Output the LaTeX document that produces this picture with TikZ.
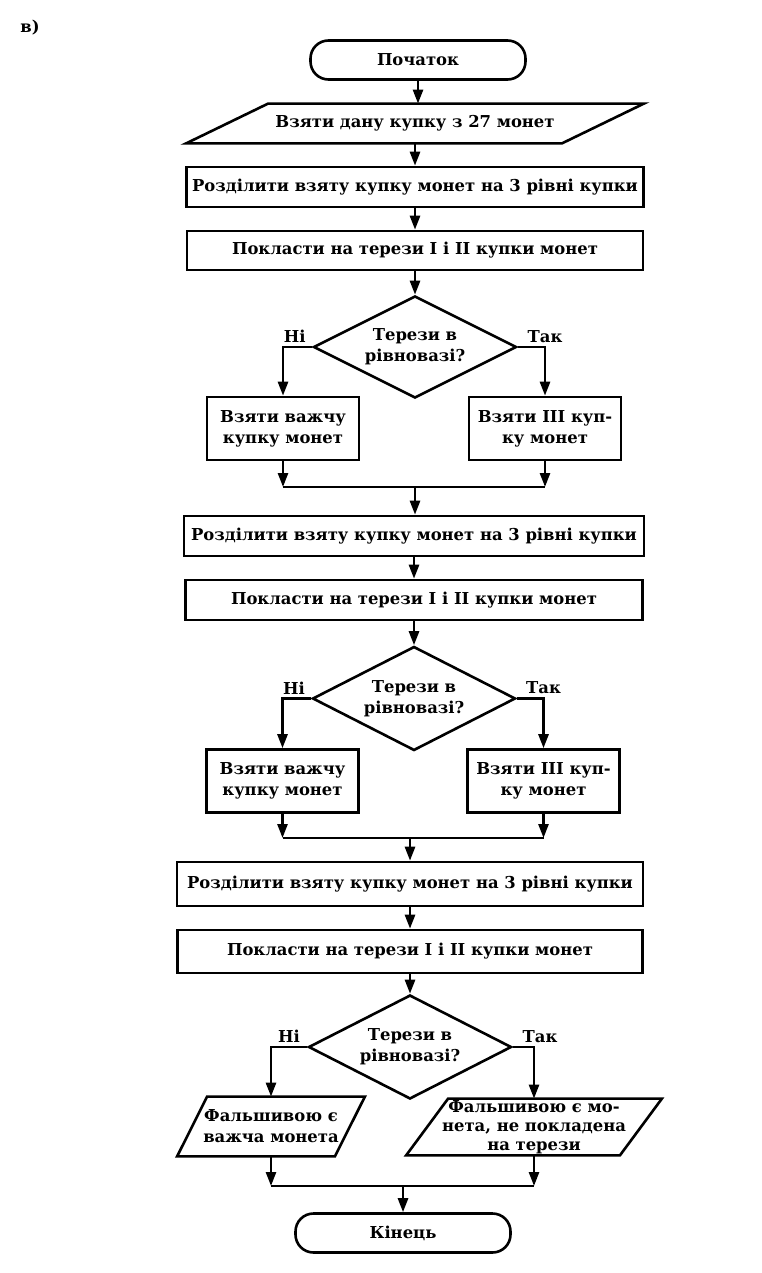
\documentclass[tikz,border=0pt]{standalone}
\usepackage{fontspec}
\setmainfont{DejaVu Serif}
\usetikzlibrary{shapes.geometric,arrows.meta}

\begin{document}
\begin{tikzpicture}[x=0.5pt, y=-0.5pt,
    >={Triangle[width=5pt,length=7pt]},
    every node/.style={font=\bfseries\fontsize{8.2}{10.5}\selectfont, align=center},
    line/.style={line width=1.3pt},
    answer/.style={above, inner sep=1.5pt},
    terminal/.style={draw, line width=1.3pt, rounded corners=9pt, minimum width=107.5pt, minimum height=19.5pt},
    process/.style={draw, line width=1.3pt, inner sep=0.5pt, minimum height=20pt},
    io/.style={inner sep=0pt},
    decision/.style={draw, line width=1.3pt, diamond, aspect=2, inner sep=0pt, minimum width=101.5pt, minimum height=51pt},
    branch/.style={draw, line width=1.3pt, inner sep=1pt, minimum width=76pt, minimum height=31.5pt}]
  \useasboundingbox (0,0) rectangle (761,1273);

  \node (tag) at (30,28) {в)};

  % first round
  \node[terminal] (start) at (418,60) {Початок};
  \node[io, minimum width=228.5pt, minimum height=19.5pt] (in1) at (415,123.5) {Взяти дану купку з 27 монет};
  \draw[line] (in1.south west) -- ([xshift=41pt]in1.north west) -- (in1.north east)
    -- ([xshift=-41pt]in1.south east) -- cycle;
  \node[process, minimum width=228.5pt] (r1) at (415,187) {Розділити взяту купку монет на 3 рівні купки};
  \node[process, minimum width=228pt, minimum height=19.5pt] (p1) at (415,250.5) {Покласти на терези I і II купки монет};
  \node[decision] (d1) at (415,347) {Терези в\\рівновазі?};
  \node[branch] (k1) at (283,428.5) {Взяти важчу\\купку монет};
  \node[branch] (t1) at (545,428.5) {Взяти III куп-\\ку монет};
  \coordinate (m1) at (415,487);

  \draw[line,->] (start.south) -- (start.south |- in1.north);
  \draw[line,->] (in1.south) -- (in1.south |- r1.north);
  \draw[line,->] (r1) -- (p1);
  \draw[line,->] (p1) -- (d1);
  \draw[line,->] (d1.west) -| node[answer, pos=0.3] {Ні} (k1.north);
  \draw[line,->] (d1.east) -| node[answer, pos=0.5] {Так} (t1.north);
  \draw[line,->] (k1.south) -- (k1.south |- m1);
  \draw[line,->] (t1.south) -- (t1.south |- m1);
  \draw[line] (k1.south |- m1) -- (t1.south |- m1);

  % second round
  \node[process, minimum width=230pt] (r2) at (414,536) {Розділити взяту купку монет на 3 рівні купки};
  \node[process, minimum width=228.5pt] (p2) at (414,600) {Покласти на терези I і II купки монет};
  \node[decision, minimum height=52pt] (d2) at (414,698.5) {Терези в\\рівновазі?};
  \node[branch] (k2) at (282.5,781) {Взяти важчу\\купку монет};
  \node[branch] (t2) at (543.5,781) {Взяти III куп-\\ку монет};
  \coordinate (m2) at (410,838);

  \draw[line,->] (m1) -- (m1 |- r2.north);
  \draw[line,->] (r2) -- (p2);
  \draw[line,->] (p2) -- (d2);
  \draw[line,->] (d2.west) -| node[answer, pos=0.3] {Ні} (k2.north);
  \draw[line,->] (d2.east) -| node[answer, pos=0.5] {Так} (t2.north);
  \draw[line,->] (k2.south) -- (k2.south |- m2);
  \draw[line,->] (t2.south) -- (t2.south |- m2);
  \draw[line] (k2.south |- m2) -- (t2.south |- m2);

  % third round
  \node[process, minimum width=233pt, minimum height=22pt] (r3) at (410,884) {Розділити взяту купку монет на 3 рівні купки};
  \node[process, minimum width=232.5pt, minimum height=21.5pt] (p3) at (410,951.5) {Покласти на терези I і II купки монет};
  \node[decision, minimum height=52pt] (d3) at (410,1047) {Терези в\\рівновазі?};
  \node[io, minimum width=93.5pt, minimum height=29.5pt] (o1) at (271,1126.5) {Фальшивою є\\важча монета};
  \draw[line] (o1.south west) -- ([xshift=15pt]o1.north west) -- (o1.north east)
    -- ([xshift=-15pt]o1.south east) -- cycle;
  \node[io, minimum width=127.5pt, minimum height=28pt,
        font=\bfseries\fontsize{8.2}{9.5}\selectfont] (o2) at (534,1127) {Фальшивою є мо-\\нета, не покладена\\на терези};
  \draw[line] (o2.south west) -- ([xshift=21pt]o2.north west) -- (o2.north east)
    -- ([xshift=-21pt]o2.south east) -- cycle;
  \node[terminal] (stop) at (403,1233) {Кінець};
  \coordinate (m3) at (403,1186);

  \draw[line,->] (m2) -- (m2 |- r3.north);
  \draw[line,->] (r3) -- (p3);
  \draw[line,->] (p3) -- (d3);
  \draw[line,->] (d3.west) -| node[answer, pos=0.25] {Ні} (o1.north);
  \draw[line,->] (d3.east) -| node[answer, pos=0.5, xshift=3pt] {Так} (o2.north);
  \draw[line,->] (o1.south) -- (o1.south |- m3);
  \draw[line,->] (o2.south) -- (o2.south |- m3);
  \draw[line] (o1.south |- m3) -- (o2.south |- m3);
  \draw[line,->] (m3) -- (stop);
\end{tikzpicture}
\end{document}
